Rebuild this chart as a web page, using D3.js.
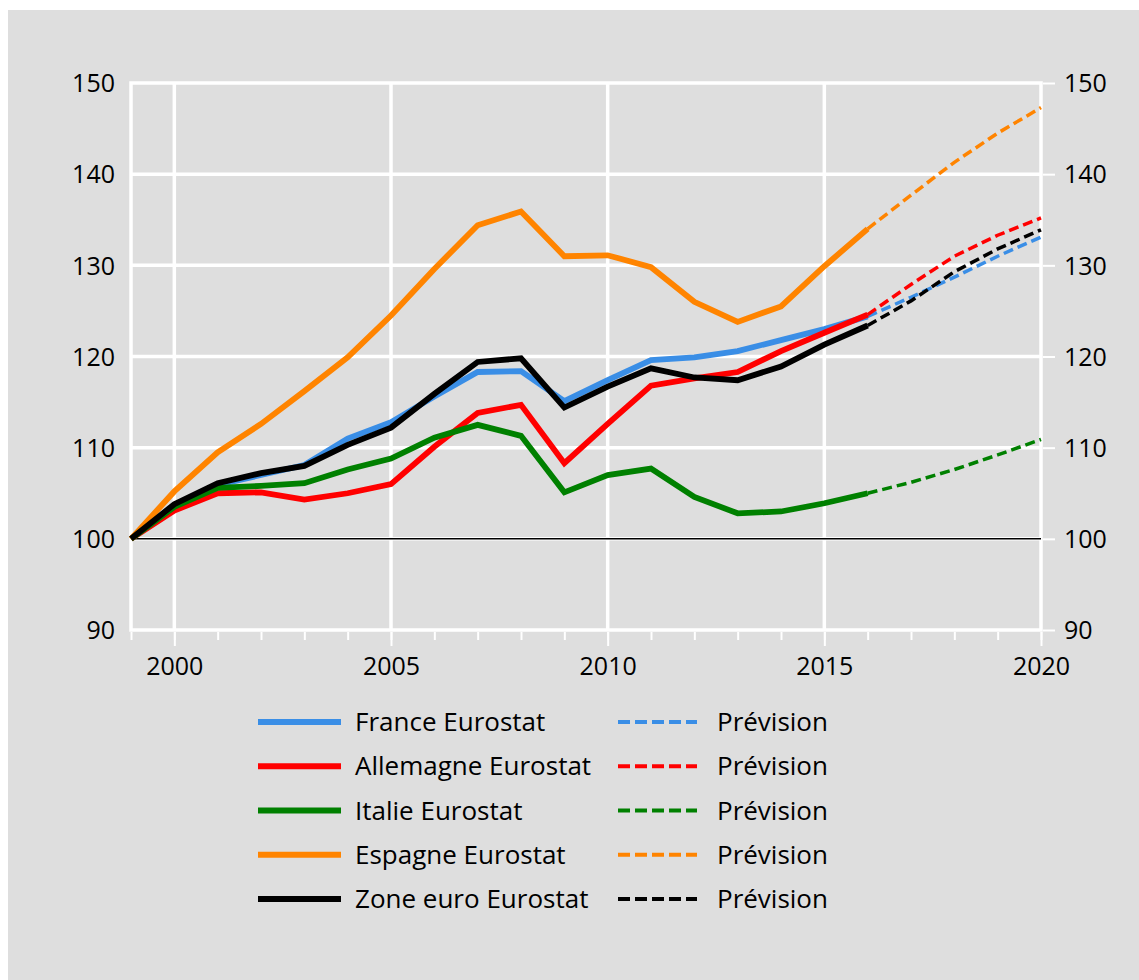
<!DOCTYPE html>
<html>
<head>
<meta charset="utf-8">
<script src="https://cdn.jsdelivr.net/npm/d3@7"></script>
<style>
    body { margin: 0; background: #ffffff; }
    text { font-family: "Open Sans", sans-serif; fill: #000; }
</style>
</head>
<body>
<div id="chart"></div>
<script>
// observed years and forecast years
const years = [1999, 2000, 2001, 2002, 2003, 2004, 2005, 2006, 2007, 2008,
               2009, 2010, 2011, 2012, 2013, 2014, 2015, 2016];
const forecastYears = [2016, 2017, 2018, 2019, 2020];

// Eurostat series (index 1999 = 100)
const france  = [100, 103.7, 105.9, 107.0, 108.1, 111.0, 112.8, 115.6, 118.3, 118.4, 115.1, 117.4, 119.6, 119.9, 120.6, 121.8, 123.0, 124.4];
const germany = [100, 103.1, 105.0, 105.1, 104.3, 105.0, 106.0, 110.1, 113.8, 114.7, 108.3, 112.6, 116.8, 117.6, 118.3, 120.6, 122.6, 124.6];
const italy   = [100, 103.5, 105.6, 105.8, 106.1, 107.6, 108.8, 111.1, 112.5, 111.3, 105.1, 107.0, 107.7, 104.6, 102.8, 103.0, 103.9, 105.0];
const spain   = [100, 105.2, 109.5, 112.6, 116.2, 119.9, 124.5, 129.6, 134.4, 135.9, 131.0, 131.1, 129.8, 126.0, 123.8, 125.5, 129.9, 134.0];
const euro    = [100, 103.8, 106.1, 107.2, 108.0, 110.3, 112.2, 115.9, 119.4, 119.8, 114.4, 116.7, 118.7, 117.7, 117.4, 118.9, 121.3, 123.4];

// forecasts
const franceF  = [124.4, 126.5, 128.7, 131.0, 133.1];
const germanyF = [124.6, 127.9, 131.0, 133.3, 135.2];
const italyF   = [105.0, 106.2, 107.6, 109.2, 110.9];
const spainF   = [134.0, 137.7, 141.3, 144.5, 147.3];
const euroF    = [123.4, 126.1, 129.3, 131.8, 133.9];

const seriesNames = ["France Eurostat", "Allemagne Eurostat", "Italie Eurostat", "Espagne Eurostat", "Zone euro Eurostat"];
const forecastLabel = "Prévision";
const colors = ["#3a8ee6", "#ff0000", "#008000", "#ff8400", "#000000"];

const yTicks = [90, 100, 110, 120, 130, 140, 150];
const xLabelYears = [2000, 2005, 2010, 2015, 2020];
const xAllYears = [1999, 2000, 2001, 2002, 2003, 2004, 2005, 2006, 2007, 2008, 2009, 2010,
                   2011, 2012, 2013, 2014, 2015, 2016, 2017, 2018, 2019, 2020];

const ctx = {
    w: 1139,
    h: 980,
    left: 131,
    right: 1041,
    top: 83,
    bottom: 630
};

function createViz() {
    const svg = d3.select("#chart").append("svg")
        .attr("width", ctx.w)
        .attr("height", ctx.h);

    // grey panel
    svg.append("rect")
        .attr("x", 8).attr("y", 10)
        .attr("width", ctx.w - 8).attr("height", ctx.h - 10)
        .attr("fill", "#dedede");

    const x = d3.scaleLinear().domain([1999, 2020]).range([ctx.left, ctx.right]);
    const y = d3.scaleLinear().domain([90, 150]).range([ctx.bottom, ctx.top]);

    // white grid
    svg.append("g").selectAll("line")
        .data(xLabelYears.slice(0, 4))
        .join("line")
        .attr("x1", d => x(d)).attr("x2", d => x(d))
        .attr("y1", ctx.top).attr("y2", ctx.bottom)
        .attr("stroke", "#fff").attr("stroke-width", 3.5);

    svg.append("g").selectAll("line")
        .data(yTicks.slice(1, 6))
        .join("line")
        .attr("x1", ctx.left).attr("x2", ctx.right)
        .attr("y1", d => y(d)).attr("y2", d => y(d))
        .attr("stroke", "#fff").attr("stroke-width", 3.5);

    // frame
    svg.append("rect")
        .attr("x", ctx.left).attr("y", ctx.top)
        .attr("width", ctx.right - ctx.left).attr("height", ctx.bottom - ctx.top)
        .attr("fill", "none").attr("stroke", "#fff").attr("stroke-width", 3.5);

    // bottom axis: minor year ticks, then labelled ticks
    const minorAxis = svg.append("g")
        .attr("transform", `translate(0,${ctx.bottom + 2})`)
        .call(d3.axisBottom(x).tickValues(xAllYears).tickSize(8).tickFormat(""));
    const majorAxis = svg.append("g")
        .attr("transform", `translate(0,${ctx.bottom + 2})`)
        .call(d3.axisBottom(x).tickValues(xLabelYears).tickSize(14).tickFormat(d3.format("d")));
    [minorAxis, majorAxis].forEach(g => {
        g.select(".domain").remove();
        g.selectAll(".tick line").attr("stroke", "#fff").attr("stroke-width", 2);
    });
    majorAxis.selectAll("text")
        .attr("y", 34).attr("dy", "0.35em")
        .style("font-size", "25px")
        .style("font-family", "'Open Sans', sans-serif")
        .attr("fill", "#000");

    // left axis (labels only)
    const leftAxis = svg.append("g")
        .attr("transform", `translate(${ctx.left},0)`)
        .call(d3.axisLeft(y).tickValues(yTicks).tickSize(0).tickPadding(16));
    leftAxis.select(".domain").remove();

    // right axis
    const rightAxis = svg.append("g")
        .attr("transform", `translate(${ctx.right + 2},0)`)
        .call(d3.axisRight(y).tickValues(yTicks).tickSize(12).tickPadding(9));
    rightAxis.select(".domain").remove();
    rightAxis.selectAll(".tick line").attr("stroke", "#fff").attr("stroke-width", 2);

    [leftAxis, rightAxis].forEach(g => {
        g.selectAll("text")
            .attr("dy", "0.35em")
            .style("font-size", "25px")
            .style("font-family", "'Open Sans', sans-serif")
            .attr("fill", "#000");
    });

    // 100 baseline
    svg.append("line")
        .attr("x1", ctx.left).attr("x2", ctx.right)
        .attr("y1", y(100)).attr("y2", y(100))
        .attr("stroke", "#000").attr("stroke-width", 1.5);

    const observed = [france, germany, italy, spain, euro];
    const forecasts = [franceF, germanyF, italyF, spainF, euroF];

    const line = d3.line()
        .x(d => x(d[0]))
        .y(d => y(d[1]));

    // forecasts first (dashed), then observed
    forecasts.forEach((vals, i) => {
        svg.append("path")
            .datum(forecastYears.map((yr, j) => [yr, vals[j]]))
            .attr("fill", "none")
            .attr("stroke", colors[i])
            .attr("stroke-width", 3.5)
            .attr("stroke-dasharray", "10,5")
            .attr("d", line);
    });

    observed.forEach((vals, i) => {
        svg.append("path")
            .datum(years.map((yr, j) => [yr, vals[j]]))
            .attr("fill", "none")
            .attr("stroke", colors[i])
            .attr("stroke-width", 5.8)
            .attr("d", line);
    });

    drawLegend(svg);
}

function drawLegend(svg) {
    const rowY = d3.scalePoint().domain(seriesNames).range([722, 899]);
    const legend = svg.append("g");

    const rows = legend.selectAll("g")
        .data(seriesNames)
        .join("g")
        .attr("transform", d => `translate(0,${rowY(d)})`);

    rows.append("line")
        .attr("x1", 258).attr("x2", 341)
        .attr("stroke", (d, i) => colors[i])
        .attr("stroke-width", 6);

    rows.append("text")
        .attr("x", 355).attr("dy", "0.35em")
        .style("font-size", "26px")
        .text(d => d);

    rows.append("line")
        .attr("x1", 618).attr("x2", 697)
        .attr("stroke", (d, i) => colors[i])
        .attr("stroke-width", 4)
        .attr("stroke-dasharray", "12,5");

    rows.append("text")
        .attr("x", 717).attr("dy", "0.35em")
        .style("font-size", "26px")
        .text(forecastLabel);
}

document.addEventListener("DOMContentLoaded", function () {
    createViz();
});
</script>
</body>
</html>
